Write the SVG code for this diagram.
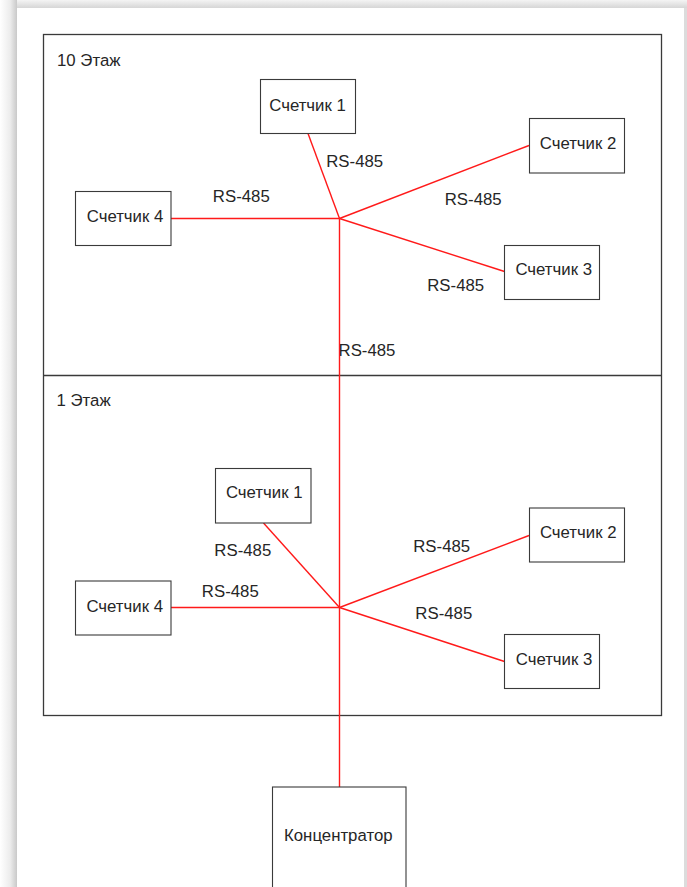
<svg xmlns="http://www.w3.org/2000/svg" width="687" height="887" viewBox="0 0 687 887">
<defs>
<linearGradient id="shL" x1="0" y1="0" x2="1" y2="0">
<stop offset="0" stop-color="#ffffff"/>
<stop offset="0.6" stop-color="#ececec"/>
<stop offset="1" stop-color="#c9c9c9"/>
</linearGradient>
<linearGradient id="shT" x1="0" y1="0" x2="0" y2="1">
<stop offset="0" stop-color="#f4f4f4"/>
<stop offset="1" stop-color="#d6d6d6"/>
</linearGradient>
<style>
.frame{fill:none;stroke:#3a3a3a;stroke-width:1.3}
.box{fill:#ffffff;stroke:#3a3a3a;stroke-width:1.1}
.wire{fill:none;stroke:#ff1a1a;stroke-width:1.4}
text{font-family:"Liberation Sans",Arial,sans-serif;font-size:16.8px;fill:#262626}
.c{text-anchor:middle}
</style>
</defs>
<rect x="0" y="0" width="687" height="887" fill="#ffffff"/>
<rect x="0" y="0" width="17" height="887" fill="url(#shL)"/>
<rect x="17" y="0" width="670" height="8" fill="url(#shT)"/>
<rect x="684" y="8" width="3" height="879" fill="#dcdcdc"/>
<rect x="17" y="8" width="667" height="879" fill="#ffffff"/>
<g id="floors">
<rect class="frame" x="43.5" y="34.5" width="618" height="681"/>
<line class="frame" x1="43.5" y1="375.5" x2="661.5" y2="375.5"/>
<text x="57" y="65.5">10 Этаж</text>
<text x="56.5" y="405.5">1 Этаж</text>
</g>
<g id="connectors">
<line class="wire" x1="308" y1="133.5" x2="339.5" y2="218.5"/>
<line class="wire" x1="171" y1="218.5" x2="339.5" y2="218.5"/>
<line class="wire" x1="339.5" y1="218.5" x2="529" y2="145.5"/>
<line class="wire" x1="339.5" y1="218.5" x2="504.5" y2="271.5"/>
<line class="wire" x1="339.5" y1="218.5" x2="339.5" y2="787"/>
<line class="wire" x1="263.5" y1="523" x2="339.5" y2="607.5"/>
<line class="wire" x1="171" y1="607.5" x2="339.5" y2="607.5"/>
<line class="wire" x1="339.5" y1="607.5" x2="529" y2="535.5"/>
<line class="wire" x1="339.5" y1="607.5" x2="504.5" y2="661.5"/>
<text class="c" x="354.7" y="166.5">RS-485</text>
<text class="c" x="241.3" y="202">RS-485</text>
<text class="c" x="473.2" y="204.5">RS-485</text>
<text class="c" x="455.7" y="290.5">RS-485</text>
<text class="c" x="367" y="356">RS-485</text>
<text class="c" x="242.8" y="556">RS-485</text>
<text class="c" x="230.3" y="597">RS-485</text>
<text class="c" x="441.7" y="552.3">RS-485</text>
<text class="c" x="443.8" y="619.3">RS-485</text>
</g>
<g id="f10-m1"><rect class="box" x="260.5" y="79.5" width="95" height="54"/><text class="c" x="307.5" y="111">Счетчик 1</text></g>
<g id="f10-m2"><rect class="box" x="529.5" y="118.5" width="95" height="54.5"/><text class="c" x="578" y="149">Счетчик 2</text></g>
<g id="f10-m3"><rect class="box" x="504.5" y="245.5" width="95" height="54"/><text class="c" x="553.7" y="275">Счетчик 3</text></g>
<g id="f10-m4"><rect class="box" x="75.5" y="191.5" width="95.5" height="54"/><text class="c" x="125" y="221.7">Счетчик 4</text></g>
<g id="f1-m1"><rect class="box" x="215.5" y="468.5" width="95.5" height="54.5"/><text class="c" x="264.2" y="498.3">Счетчик 1</text></g>
<g id="f1-m2"><rect class="box" x="529.5" y="508" width="95" height="54"/><text class="c" x="578.2" y="538.3">Счетчик 2</text></g>
<g id="f1-m3"><rect class="box" x="504.5" y="634.5" width="95" height="54"/><text class="c" x="554" y="664.7">Счетчик 3</text></g>
<g id="f1-m4"><rect class="box" x="75.5" y="581" width="95.5" height="54"/><text class="c" x="124.7" y="611.7">Счетчик 4</text></g>
<g id="concentrator"><rect class="box" x="272.5" y="787" width="133.5" height="110"/><text class="c" x="338.3" y="840.7">Концентратор</text></g>
</svg>
